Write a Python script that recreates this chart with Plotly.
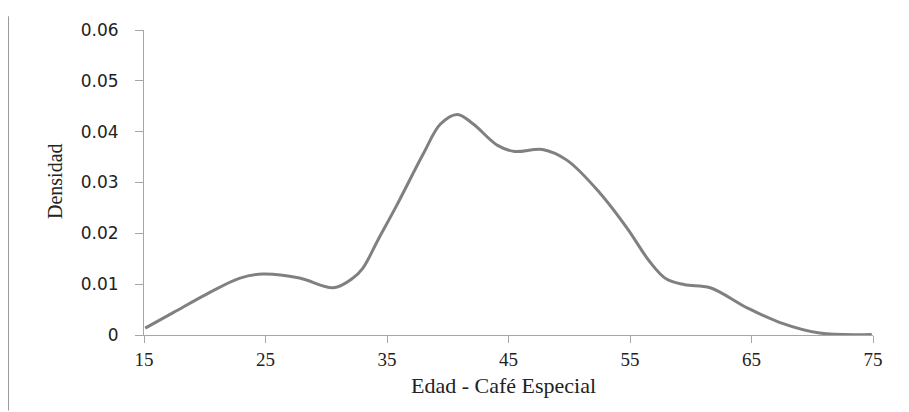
import plotly.graph_objects as go

# Density curve
edad = [15.1, 17.4, 20.2, 22.9, 24.8, 27.8, 30.6, 32.2, 33.0, 34.3, 35.8, 38.0,
        39.4, 40.8, 42.1, 44.1, 45.5, 47.8, 49.8, 52.5, 54.8, 56.6, 58.0, 59.5,
        61.6, 64.6, 67.3, 70.6, 74.9]
densidad = [0.00135, 0.0044, 0.0081, 0.0112, 0.0120, 0.0112, 0.0093, 0.0112, 0.0131,
            0.0189, 0.0255, 0.0357, 0.0415, 0.0434, 0.0415, 0.0373, 0.0361, 0.0365,
            0.0344, 0.0280, 0.0209, 0.0145, 0.0110, 0.0099, 0.0093, 0.0054, 0.0025,
            0.0004, 0.0001]

x_ticks = [15, 25, 35, 45, 55, 65, 75]
y_ticks = [0, 0.01, 0.02, 0.03, 0.04, 0.05, 0.06]
y_tick_labels = ["0", "0.01", "0.02", "0.03", "0.04", "0.05", "0.06"]

x_title = "Edad - Café Especial"
y_title = "Densidad"

# page body adds an 8px offset; compensate
W, H = 901, 404
L, R, T, B = 136, 36, 16, 77
plot_w = W - L - R
plot_h = H - T - B
y0px = T + plot_h  # axis line in figure pixels

axis_color = "#a6a6a6"
serif = "Liberation Serif, Times New Roman, serif"

fig = go.Figure()
fig.add_trace(go.Scatter(
    x=edad, y=densidad, mode="lines",
    line=dict(color="#808080", width=3, shape="spline", smoothing=1.0),
    hoverinfo="skip", showlegend=False,
))

fig.update_layout(
    width=W, height=H,
    margin=dict(l=L, r=R, t=T, b=B),
    paper_bgcolor="white", plot_bgcolor="white",
    xaxis=dict(
        range=[15, 75], tickvals=x_ticks, ticktext=[str(v) for v in x_ticks],
        showgrid=False, zeroline=False, showline=True, linecolor=axis_color, linewidth=1,
        ticks="outside", ticklen=7, tickcolor=axis_color, tickwidth=1,
        tickfont=dict(family=serif, size=19, color="#222222"),
        ticklabelstandoff=0,
    ),
    yaxis=dict(
        range=[0, 0.06], tickvals=y_ticks, ticktext=y_tick_labels,
        showgrid=False, zeroline=False, showline=True, linecolor=axis_color, linewidth=1,
        ticks="outside", ticklen=8, tickcolor=axis_color, tickwidth=1,
        tickfont=dict(family="DejaVu Sans, Verdana, sans-serif", size=17, color="#222222"),
        ticklabelstandoff=13,
    ),
    annotations=[
        dict(text=x_title, xref="paper", yref="paper", x=0.5 - 5 / plot_w,
             y=-51 / plot_h, xanchor="center", yanchor="middle",
             showarrow=False, font=dict(family=serif, size=22, color="#222222")),
        dict(text=y_title, xref="paper", yref="paper", x=(47 - L) / plot_w,
             y=157 / plot_h, xanchor="center", yanchor="middle", textangle=-90,
             showarrow=False, font=dict(family=serif, size=20, color="#222222")),
    ],
    shapes=[
        dict(type="line", xref="paper", yref="paper",
             x0=(0.5 - L) / plot_w, x1=(0.5 - L) / plot_w,
             y0=(y0px - 2) / plot_h, y1=(y0px - H) / plot_h,
             line=dict(color="#9a9a9a", width=1)),
    ],
)

fig.write_html("out.html")
